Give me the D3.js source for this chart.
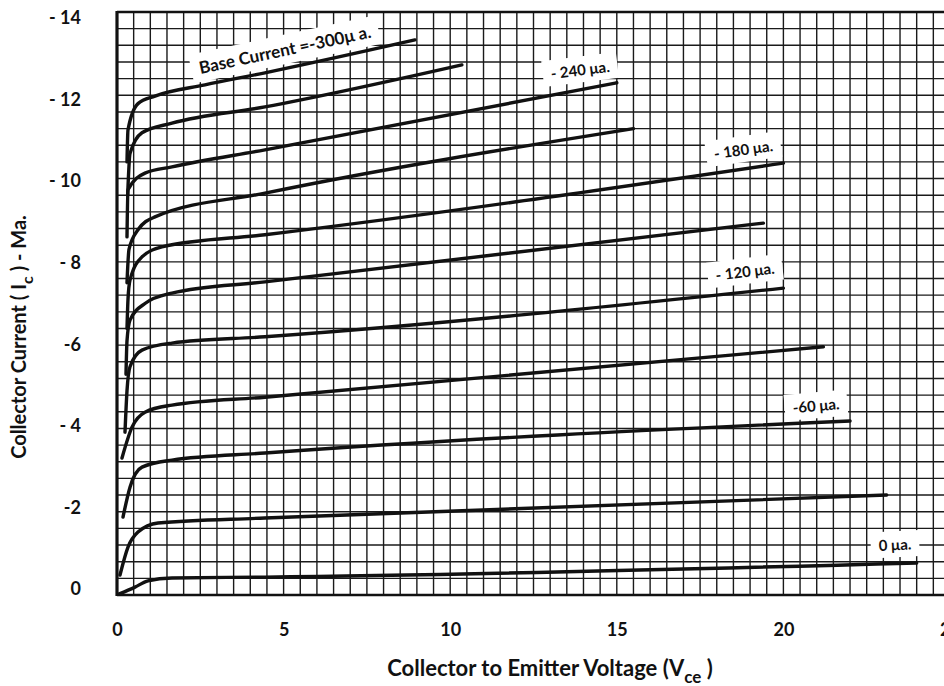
<!DOCTYPE html>
<html>
<head>
<meta charset="utf-8">
<script src="https://cdn.jsdelivr.net/npm/d3@7"></script>
<style>
  body { margin: 0; background: #fff; }
  svg { display: block; }
  text { font-family: Lato, "Open Sans", sans-serif; font-weight: 700; fill: #111; }
</style>
</head>
<body>
<svg id="chart" width="944" height="686"></svg>
<script>
// collector characteristics, one array per base current: [Vce volts, Ic mA]
const baseCurrents = [0, -30, -60, -90, -120, -150, -180, -210, -240, -270, -300];
const ib0   = [[0.05,-0.02],[0.54,-0.19],[0.93,-0.34],[1.65,-0.41],[4.44,-0.43],[24.0,-0.77]];
const ib30  = [[0.09,-0.48],[0.33,-1.15],[0.63,-1.51],[1.23,-1.73],[4.44,-1.85],[23.1,-2.40]];
const ib60  = [[0.18,-1.87],[0.39,-2.59],[0.75,-3.07],[1.65,-3.24],[4.44,-3.41],[22.0,-4.18]];
const ib90  = [[0.15,-3.29],[0.45,-4.03],[0.84,-4.39],[1.65,-4.56],[4.44,-4.75],[21.2,-5.96]];
const ib120 = [[0.24,-3.91],[0.30,-4.90],[0.39,-5.48],[0.75,-5.88],[1.65,-6.05],[4.44,-6.20],[20.0,-7.37]];
const ib150 = [[0.27,-5.30],[0.30,-6.10],[0.39,-6.60],[0.84,-7.00],[1.65,-7.25],[4.44,-7.52],[19.4,-8.93]];
const ib180 = [[0.30,-6.40],[0.33,-7.10],[0.39,-7.56],[0.75,-8.12],[1.35,-8.36],[4.44,-8.65],[20.0,-10.37]];
const ib210 = [[0.30,-7.50],[0.36,-8.30],[0.63,-8.77],[1.14,-9.08],[4.44,-9.65],[15.5,-11.20]];
const ib240 = [[0.30,-8.60],[0.33,-9.73],[0.84,-10.13],[1.65,-10.28],[4.44,-10.69],[15.0,-12.30]];
const ib270 = [[0.32,-9.60],[0.39,-10.60],[0.75,-11.10],[1.65,-11.33],[4.44,-11.72],[10.35,-12.73]];
const ib300 = [[0.30,-10.40],[0.33,-11.17],[0.63,-11.80],[1.14,-11.98],[2.64,-12.25],[4.44,-12.54],[8.94,-13.33]];
const curves = [ib0, ib30, ib60, ib90, ib120, ib150, ib180, ib210, ib240, ib270, ib300];

// curve labels, anchored in data units [Vce, Ic]
const curveLabels = ["0 \u03bca.", "-60 \u03bca.", "- 120 \u03bca.", "- 180 \u03bca.", "- 240 \u03bca.", "Base Current =-300\u03bc a."];
const labelAt = [[23.35,-1.2],[20.98,-4.54],[18.85,-7.76],[18.8,-10.69],[13.9,-12.6],[5.04,-13.09]];
const labelTilt = [-3, -5, -7, -8, -7, -12];

const xTicks = [0, 5, 10, 15, 20, 25];
const xTickLabels = ["0", "5", "10", "15", "20", "25"];
const yTicks = [0, -2, -4, -6, -8, -10, -12, -14];
const yTickLabels = ["0", "-2", "- 4", "-6", "- 8", "- 10", "- 12", "- 14"];

const svg = d3.select("#chart");
const x = d3.scaleLinear().domain([0, 25]).range([117, 950]);
const y = d3.scaleLinear().domain([0, -14]).range([595, 12]);
// the printed tick numbers sit a little off the grid
const yLab = d3.scaleLinear().domain([0, -14]).range([589, 18]);

svg.append("rect").attr("width", 944).attr("height", 686).attr("fill", "#fff");

// graph paper
const grid = svg.append("g").attr("stroke", "#1a1a1a").attr("stroke-width", 1.4);
grid.selectAll("line.v")
  .data(d3.range(51).map(i => i * 0.5))
  .enter().append("line")
    .attr("x1", d => x(d)).attr("x2", d => x(d))
    .attr("y1", y(0)).attr("y2", y(-14));
grid.selectAll("line.h")
  .data(d3.range(36).map(i => -i * 0.4))
  .enter().append("line")
    .attr("y1", d => y(d)).attr("y2", d => y(d))
    .attr("x1", x(0)).attr("x2", x(25));

// heavier frame
svg.append("line").attr("x1", x(0)).attr("x2", x(0)).attr("y1", y(0) + 1).attr("y2", y(-14) - 1)
  .attr("stroke", "#111").attr("stroke-width", 3.2);
svg.append("line").attr("x1", x(0)).attr("x2", x(25)).attr("y1", y(-14)).attr("y2", y(-14))
  .attr("stroke", "#111").attr("stroke-width", 2.6);
svg.append("line").attr("x1", x(0)).attr("x2", x(25)).attr("y1", y(0)).attr("y2", y(0))
  .attr("stroke", "#111").attr("stroke-width", 2.6);

// white patches behind the curve labels
const labelLayer = svg.append("g");
const labels = labelLayer.selectAll("g")
  .data(curveLabels)
  .enter().append("g")
    .attr("transform", (d, i) => `translate(${x(labelAt[i][0])},${y(labelAt[i][1])}) rotate(${labelTilt[i]})`);

labels.append("text")
  .attr("text-anchor", "middle")
  .attr("dy", "0.35em")
  .style("font-size", (d, i) => i == 5 ? "17px" : "15px")
  .text(d => d);

labels.each(function() {
  const g = d3.select(this);
  const b = g.select("text").node().getBBox();
  g.insert("rect", "text")
    .attr("x", b.x - 8).attr("y", b.y - 4)
    .attr("width", b.width + 16).attr("height", b.height + 8)
    .attr("fill", "#fff");
});

// the curves
const line = d3.line()
  .x(d => x(d[0]))
  .y(d => y(d[1]))
  .curve(d3.curveMonotoneX);

svg.append("g").selectAll("path")
  .data(curves)
  .enter().append("path")
    .attr("d", line)
    .attr("fill", "none")
    .attr("stroke", "#111")
    .attr("stroke-width", 3.4)
    .attr("stroke-linecap", "round");

svg.node().appendChild(labelLayer.node());

// axes
svg.append("g")
  .attr("transform", "translate(0,623)")
  .call(d3.axisBottom(x).tickValues(xTicks).tickFormat((d, i) => xTickLabels[i]).tickSize(0).tickPadding(0));
svg.append("g")
  .attr("transform", "translate(81,0)")
  .call(d3.axisLeft(yLab).tickValues(yTicks).tickFormat((d, i) => yTickLabels[i]).tickSize(0).tickPadding(0));
svg.selectAll(".domain").remove();
svg.selectAll(".tick text")
  .attr("fill", "#111")
  .style("font-family", "Lato, sans-serif")
  .style("font-weight", 700)
  .style("font-size", "18px");

// axis titles
const xt = svg.append("text")
  .attr("x", 550).attr("y", 676)
  .attr("text-anchor", "middle")
  .style("font-size", "22px");
xt.append("tspan").text("Collector to Emitter Voltage (V");
xt.append("tspan").attr("dy", 7).style("font-size", "17px").text("ce");
xt.append("tspan").attr("dy", -7).text(" )");

const yt = svg.append("text")
  .attr("transform", "translate(26,337) rotate(-90)")
  .attr("text-anchor", "middle")
  .style("font-size", "20px");
yt.append("tspan").text("Collector Current ( I");
yt.append("tspan").attr("dy", 7).style("font-size", "16px").text("c");
yt.append("tspan").attr("dy", -7).text(" ) - Ma.");
</script>
</body>
</html>
